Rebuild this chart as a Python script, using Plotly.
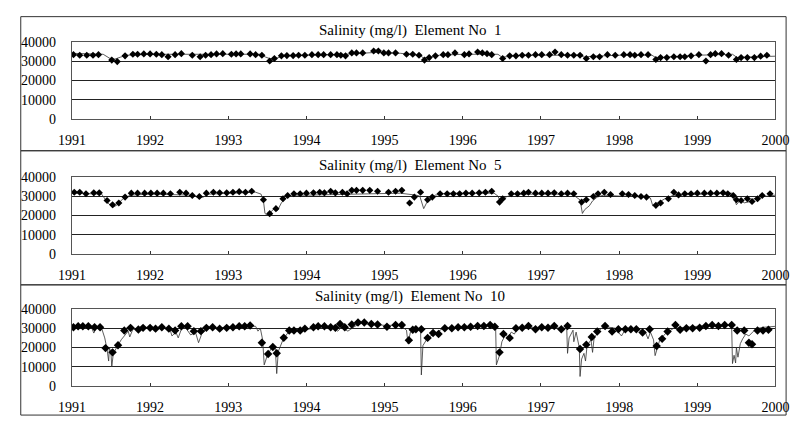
import plotly.graph_objects as go

W, H = 803, 425

# ---------------- data ----------------
years = [1991, 1992, 1993, 1994, 1995, 1996, 1997, 1998, 1999, 2000]
y_ticks = [0, 10000, 20000, 30000, 40000]
titles = ["Salinity (mg/l)  Element No  1",
          "Salinity (mg/l)  Element No  5",
          "Salinity (mg/l)  Element No  10"]

# Element 1 - observed
obs1_t = [1991.02, 1991.10, 1991.19, 1991.27, 1991.34, 1991.51, 1991.58, 1991.68, 1991.78, 1991.84,
          1991.92, 1992.00, 1992.08, 1992.15, 1992.23, 1992.32, 1992.40, 1992.54, 1992.64, 1992.71,
          1992.78, 1992.85, 1992.93, 1993.04, 1993.10, 1993.16, 1993.28, 1993.35, 1993.43, 1993.53,
          1993.59, 1993.68, 1993.75, 1993.83, 1993.90, 1993.98, 1994.07, 1994.15, 1994.22, 1994.31,
          1994.39, 1994.44, 1994.50, 1994.58, 1994.64, 1994.72, 1994.86, 1994.92, 1994.99, 1995.05,
          1995.14, 1995.28, 1995.36, 1995.44, 1995.51, 1995.57, 1995.65, 1995.75, 1995.81, 1995.90,
          1996.02, 1996.08, 1996.19, 1996.25, 1996.31, 1996.37, 1996.51, 1996.60, 1996.68, 1996.76,
          1996.84, 1996.93, 1997.01, 1997.11, 1997.18, 1997.26, 1997.34, 1997.42, 1997.50, 1997.58,
          1997.67, 1997.75, 1997.85, 1997.95, 1998.06, 1998.14, 1998.20, 1998.28, 1998.37, 1998.47,
          1998.53, 1998.61, 1998.70, 1998.78, 1998.84, 1998.92, 1999.02, 1999.11, 1999.17, 1999.23,
          1999.31, 1999.40, 1999.50, 1999.56, 1999.64, 1999.73, 1999.81, 1999.89]
obs1_v = [33300, 33000, 33000, 33000, 33300, 30500, 29700, 32700, 33500, 33500,
          33700, 33700, 33500, 33300, 32200, 33300, 33800, 33000, 32200, 33000,
          33300, 33700, 33800, 33500, 33700, 33700, 33700, 33300, 33000, 30000,
          31300, 32700, 32800, 32800, 33000, 33000, 33300, 33300, 33300, 33300,
          33300, 33000, 32700, 34200, 34200, 34200, 35200, 35200, 34200, 34200,
          34200, 33500, 33500, 33000, 30500, 31800, 32700, 33300, 33300, 34200,
          33300, 33700, 34700, 34200, 33800, 33300, 31300, 32700, 32700, 33000,
          33000, 33300, 33300, 33300, 34700, 33300, 33000, 33000, 33000, 31300,
          32200, 32200, 33300, 33000, 33300, 33300, 33000, 33300, 33300, 30800,
          31800, 31800, 32200, 32200, 32200, 32700, 33300, 30000, 33300, 33800,
          33800, 33000, 30800, 31800, 31800, 31800, 32500, 33000]
# Element 1 - simulated
sim1_t = [1991.00, 1991.40, 1991.48, 1991.55, 1991.62, 1991.70, 1992.00, 1993.40, 1993.48, 1993.55,
          1993.62, 1993.70, 1994.00, 1994.50, 1994.90, 1995.20, 1995.45, 1995.50, 1995.58, 1995.70,
          1996.00, 1996.45, 1996.50, 1996.60, 1996.75, 1997.50, 1997.55, 1997.65, 1998.00, 1998.42,
          1998.48, 1998.60, 1998.85, 1999.00, 1999.45, 1999.52, 1999.60, 1999.90, 2000.00]
sim1_v = [34000, 33500, 31500, 31000, 32000, 33000, 33500, 33500, 32000, 31000,
          31500, 32500, 33000, 33500, 34500, 34000, 33000, 31500, 32000, 33000,
          33500, 33500, 32000, 32500, 33000, 33000, 32000, 32500, 33000, 33000,
          31500, 32000, 32500, 33000, 33500, 31500, 32000, 32500, 32500]

# Element 5 - observed
obs5_t = [1991.03, 1991.10, 1991.18, 1991.28, 1991.35, 1991.45, 1991.52, 1991.60, 1991.68, 1991.76,
          1991.84, 1991.93, 1992.01, 1992.09, 1992.17, 1992.26, 1992.38, 1992.46, 1992.54, 1992.63,
          1992.72, 1992.81, 1992.89, 1992.98, 1993.06, 1993.14, 1993.22, 1993.30, 1993.45, 1993.53,
          1993.61, 1993.70, 1993.76, 1993.84, 1993.92, 1994.00, 1994.09, 1994.17, 1994.23, 1994.31,
          1994.37, 1994.46, 1994.52, 1994.58, 1994.64, 1994.72, 1994.81, 1994.91, 1995.05, 1995.14,
          1995.22, 1995.32, 1995.38, 1995.46, 1995.55, 1995.61, 1995.71, 1995.80, 1995.88, 1995.96,
          1996.04, 1996.12, 1996.21, 1996.29, 1996.37, 1996.47, 1996.51, 1996.62, 1996.70, 1996.78,
          1996.84, 1996.93, 1997.01, 1997.09, 1997.17, 1997.26, 1997.34, 1997.42, 1997.52, 1997.58,
          1997.67, 1997.73, 1997.81, 1997.89, 1998.04, 1998.12, 1998.20, 1998.28, 1998.35, 1998.47,
          1998.53, 1998.63, 1998.70, 1998.76, 1998.84, 1998.92, 1999.00, 1999.09, 1999.17, 1999.25,
          1999.33, 1999.39, 1999.46, 1999.50, 1999.56, 1999.64, 1999.70, 1999.77, 1999.83, 1999.93]
obs5_v = [32000, 32000, 31200, 31700, 31700, 27700, 25500, 26400, 29500, 31500,
          31500, 31500, 31500, 31500, 31500, 31200, 32000, 31500, 30300, 29800,
          31500, 32000, 31700, 31700, 32000, 32300, 32000, 32500, 28100, 20900,
          23500, 28600, 30300, 31200, 31200, 31500, 31700, 32000, 31700, 32500,
          31700, 32000, 31200, 33000, 33000, 33000, 33000, 32500, 32000, 32500,
          33000, 26400, 29500, 32000, 28100, 29500, 31200, 31200, 31200, 31200,
          31500, 31500, 31700, 32000, 32500, 26900, 28600, 31200, 31200, 31500,
          32000, 31500, 31500, 31500, 31700, 31200, 31500, 31200, 26900, 28100,
          29800, 31200, 32000, 30800, 31200, 30800, 30300, 29800, 29500, 25200,
          26400, 28600, 32000, 30600, 31200, 31200, 31500, 31500, 31500, 31500,
          31700, 31200, 30300, 28100, 27700, 28600, 27200, 28600, 30300, 31200]
# Element 5 - simulated
sim5_t = [1991.00, 1991.38, 1991.45, 1991.52, 1991.58, 1991.65, 1991.75, 1992.00, 1992.55, 1992.62,
          1992.68, 1992.75, 1993.35, 1993.42, 1993.45, 1993.47, 1993.50, 1993.55, 1993.60, 1993.63,
          1993.68, 1993.75, 1993.85, 1994.00, 1994.50, 1994.90, 1995.20, 1995.40, 1995.45, 1995.50,
          1995.55, 1995.65, 1995.80, 1996.40, 1996.45, 1996.48, 1996.55, 1996.65, 1997.40, 1997.45,
          1997.50, 1997.53, 1997.56, 1997.62, 1997.66, 1997.72, 1997.80, 1998.00, 1998.35, 1998.40,
          1998.43, 1998.50, 1998.58, 1998.70, 1999.00, 1999.45, 1999.48, 1999.50, 1999.55, 1999.60,
          1999.66, 1999.72, 1999.80, 1999.95, 2000.00]
sim5_v = [31500, 31000, 27000, 24000, 25500, 28500, 30500, 31000, 30500, 29000,
          29500, 31000, 32000, 31000, 27500, 21000, 20000, 22000, 24000, 22500,
          26500, 29500, 30500, 30500, 31000, 31500, 31500, 30500, 30000, 23500,
          27500, 30500, 31500, 31500, 30000, 27000, 29500, 31000, 31000, 29500,
          28000, 21000, 23000, 25000, 27500, 29500, 30500, 30000, 29500, 29000,
          25000, 26500, 28500, 30500, 31000, 31500, 28000, 25500, 28000, 26500,
          27000, 28500, 29500, 30500, 30500]

# Element 10 - observed
obs10_t = [1991.02, 1991.08, 1991.14, 1991.21, 1991.29, 1991.36, 1991.43, 1991.52, 1991.59, 1991.67,
           1991.75, 1991.85, 1991.91, 1992.00, 1992.07, 1992.15, 1992.24, 1992.32, 1992.40, 1992.48,
           1992.56, 1992.65, 1992.72, 1992.80, 1992.89, 1992.98, 1993.06, 1993.14, 1993.21, 1993.28,
           1993.43, 1993.51, 1993.57, 1993.62, 1993.71, 1993.78, 1993.84, 1993.92, 1993.98, 1994.09,
           1994.15, 1994.23, 1994.31, 1994.37, 1994.43, 1994.49, 1994.58, 1994.66, 1994.74, 1994.83,
           1994.91, 1995.03, 1995.14, 1995.22, 1995.31, 1995.36, 1995.40, 1995.47, 1995.55, 1995.62,
           1995.69, 1995.77, 1995.86, 1995.94, 1996.02, 1996.10, 1996.19, 1996.27, 1996.35, 1996.41,
           1996.47, 1996.52, 1996.60, 1996.68, 1996.76, 1996.84, 1996.93, 1997.01, 1997.09, 1997.17,
           1997.26, 1997.34, 1997.50, 1997.58, 1997.65, 1997.72, 1997.82, 1997.91, 1997.99, 1998.08,
           1998.15, 1998.22, 1998.30, 1998.39, 1998.48, 1998.55, 1998.62, 1998.72, 1998.78, 1998.86,
           1998.94, 1999.03, 1999.11, 1999.19, 1999.27, 1999.35, 1999.44, 1999.51, 1999.60, 1999.66,
           1999.70, 1999.77, 1999.84, 1999.91]
obs10_v = [30500, 31000, 31000, 31000, 30500, 30500, 19700, 17500, 21200, 28800,
           30200, 29300, 30200, 30200, 29800, 30500, 29800, 28800, 31000, 31000,
           28500, 28500, 30200, 30500, 29800, 30200, 30500, 31000, 31000, 31400,
           22500, 16600, 20300, 17000, 25100, 28800, 28800, 28800, 29800, 30500,
           31000, 31000, 30500, 30200, 32200, 30500, 31900, 33000, 33000, 32200,
           31900, 30800, 31700, 31700, 23800, 29200, 29500, 29500, 25000, 27500,
           27000, 30000, 30000, 30500, 30500, 30800, 31200, 31200, 31700, 30800,
           17500, 27000, 25000, 30000, 30300, 31200, 29500, 30500, 30300, 31200,
           29500, 31200, 19200, 21500, 25500, 28300, 31200, 28300, 29500, 29500,
           29500, 29500, 27800, 29500, 20800, 24500, 28300, 31700, 29200, 30000,
           30000, 30300, 31200, 31700, 31200, 31700, 31700, 28800, 28800, 22500,
           21700, 28800, 28800, 29200]
# Element 10 - simulated
sim10_t = [1991.00, 1991.25, 1991.28, 1991.31, 1991.38, 1991.42, 1991.45, 1991.47, 1991.48, 1991.50,
           1991.51, 1991.53, 1991.58, 1991.63, 1991.68, 1991.72, 1991.74, 1991.78, 1992.00, 1992.25,
           1992.28, 1992.33, 1992.36, 1992.40, 1992.45, 1992.52, 1992.58, 1992.62, 1992.66, 1992.72,
           1993.00, 1993.35, 1993.38, 1993.41, 1993.44, 1993.46, 1993.50, 1993.55, 1993.60, 1993.62,
           1993.64, 1993.70, 1993.76, 1993.85, 1994.00, 1994.35, 1994.40, 1994.45, 1994.53, 1994.56,
           1994.62, 1994.70, 1995.00, 1995.20, 1995.28, 1995.30, 1995.33, 1995.40, 1995.46, 1995.47,
           1995.49, 1995.55, 1995.65, 1995.75, 1996.00, 1996.38, 1996.42, 1996.43, 1996.47, 1996.50,
           1996.55, 1996.58, 1996.62, 1996.66, 1996.70, 1997.00, 1997.31, 1997.33, 1997.34, 1997.36,
           1997.41, 1997.42, 1997.45, 1997.49, 1997.50, 1997.52, 1997.55, 1997.57, 1997.59, 1997.64,
           1997.66, 1997.68, 1997.75, 1997.80, 1997.95, 1998.03, 1998.08, 1998.25, 1998.30, 1998.33,
           1998.37, 1998.40, 1998.44, 1998.46, 1998.52, 1998.60, 1998.70, 1999.00, 1999.42, 1999.44,
           1999.45, 1999.47, 1999.49, 1999.50, 1999.52, 1999.55, 1999.58, 1999.62, 1999.66, 1999.72,
           1999.78, 1999.85, 2000.00]
sim10_v = [31000, 30500, 27500, 30000, 30000, 25000, 19000, 13000, 20000, 17000,
           10000, 17000, 20500, 24000, 26500, 28500, 25500, 29500, 30000, 30000,
           26000, 28000, 25000, 29500, 30500, 26500, 28000, 22500, 27000, 30000,
           30500, 31000, 28500, 30000, 24000, 11000, 16000, 19500, 20500, 6500,
           18000, 24000, 27500, 28500, 29500, 30500, 28500, 30500, 28500, 29500,
           31000, 32500, 31500, 31500, 29000, 22000, 28000, 29500, 29500, 5800,
           21000, 25000, 27500, 30000, 30500, 32000, 31000, 11000, 16000, 23000,
           27000, 25000, 28000, 27000, 30000, 30500, 30000, 29500, 17000, 25000,
           29000, 23000, 28000, 20000, 5000, 14000, 17000, 13000, 21000, 24000,
           17500, 25000, 29000, 31000, 30000, 26000, 29500, 30000, 26700, 28500,
           24500, 28000, 24000, 15800, 24000, 27500, 30000, 31000, 31500, 30000,
           11700, 16000, 12000, 20000, 15000, 22000, 24500, 27000, 26000, 28500,
           30000, 30500, 31000]

# ---------------- layout geometry (pixels) ----------------
plot_left, plot_right = 60, 789
plot_tb = [(36, 116), (176, 256), (313, 393)]
title_y = [24, 164, 300]
boxes = [(7, 10, 800, 149), (7, 149, 800, 288), (7, 288, 800, 423)]

obs_sets = [(obs1_t, obs1_v), (obs5_t, obs5_v), (obs10_t, obs10_v)]
sim_sets = [(sim1_t, sim1_v), (sim5_t, sim5_v), (sim10_t, sim10_v)]

FONT = "Liberation Serif"

fig = go.Figure()
layout = dict(
    width=W, height=H, margin=dict(l=0, r=0, t=0, b=0),
    paper_bgcolor="white", plot_bgcolor="white", showlegend=False,
    font=dict(family=FONT, color="black", size=14),
)
shapes, annotations = [], []

for i in range(3):
    n = "" if i == 0 else str(i + 1)
    xa, ya = "x" + n, "y" + n
    st, sv = sim_sets[i]
    ot, ov = obs_sets[i]
    fig.add_trace(go.Scatter(x=st, y=sv, mode="lines", xaxis=xa, yaxis=ya,
                             line=dict(color="#333333", width=0.8), hoverinfo="skip"))
    fig.add_trace(go.Scatter(x=ot, y=ov, mode="markers", xaxis=xa, yaxis=ya,
                             marker=dict(symbol="diamond", size=5.5 if i < 2 else 6.5,
                                         color="black", line=dict(width=0))))
    t, b = plot_tb[i]
    layout["xaxis" + n] = dict(
        domain=[plot_left / W, plot_right / W], anchor=ya, range=[1991, 2000],
        tickvals=years, ticktext=[str(y) for y in years],
        ticks="inside", ticklen=3, tickcolor="#333", showgrid=False, zeroline=False,
        showline=True, mirror=True, linecolor="#555", linewidth=1,
        ticklabelstandoff=8, tickfont=dict(family=FONT, size=14, color="black"),
    )
    layout["yaxis" + n] = dict(
        domain=[1 - b / H, 1 - t / H], anchor=xa, range=[0, 40000],
        tickvals=y_ticks, ticktext=[str(v) for v in y_ticks], ticks="",
        showgrid=True, gridcolor="#222", gridwidth=1, zeroline=False,
        showline=True, mirror=True, linecolor="#555", linewidth=1,
        ticklabelstandoff=12, tickfont=dict(family=FONT, size=14, color="black"),
    )
    annotations.append(dict(text=titles[i], xref="paper", yref="paper",
                            x=410 / W, y=1 - title_y[i] / H, xanchor="center", yanchor="middle",
                            showarrow=False, font=dict(family=FONT, size=15, color="black")))
    x0, y0, x1, y1 = boxes[i]
    shapes.append(dict(type="rect", xref="paper", yref="paper",
                       x0=x0 / W, x1=x1 / W, y0=1 - y1 / H, y1=1 - y0 / H,
                       line=dict(color="#333", width=1), fillcolor="rgba(0,0,0,0)", layer="below"))

layout["shapes"] = shapes
layout["annotations"] = annotations
fig.update_layout(**layout)
fig.write_html("out.html")
